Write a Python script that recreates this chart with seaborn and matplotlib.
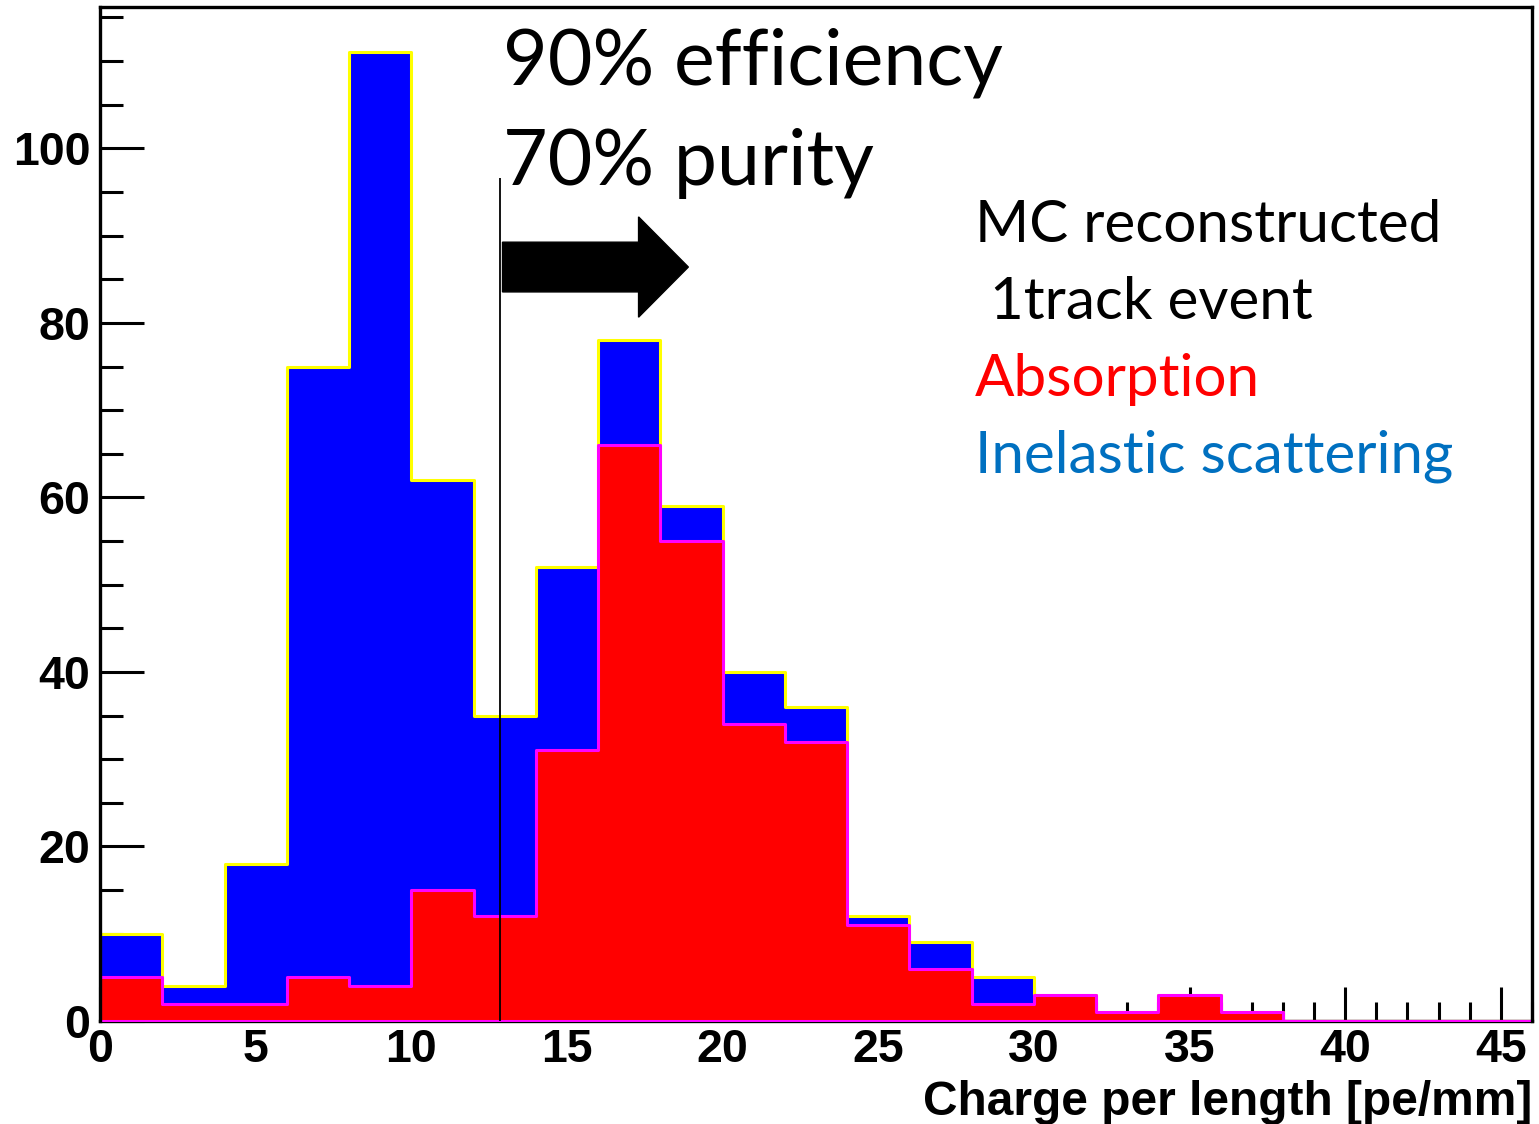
import numpy as np
import pandas as pd
import matplotlib
matplotlib.use("Agg")
import matplotlib.pyplot as plt
import matplotlib.patches as mpatches
from matplotlib.ticker import MultipleLocator
import seaborn as sns

# ---- data (bin edges of width 2, counts per bin) ----
bin_edges = list(range(0, 48, 2))  # 0..46
inelastic_total = [10, 4, 18, 75, 111, 62, 35, 52, 78, 59, 40, 36, 12, 9, 5, 3, 1, 3, 1, 0, 0, 0, 0]
absorption = [5, 2, 2, 5, 4, 15, 12, 31, 66, 55, 34, 32, 11, 6, 2, 3, 1, 3, 1, 0, 0, 0, 0]
cut_value = 12.85
x_label = "Charge per length [pe/mm]"
text_top = ["90% efficiency", "70% purity"]
text_side = ["MC reconstructed", " 1track event", "Absorption", "Inelastic scattering"]
text_side_colors = ["black", "black", "#FF0000", "#0070C0"]

edges = np.array(bin_edges, dtype=float)
centers = (edges[:-1] + edges[1:]) / 2
df = pd.DataFrame({"x": centers, "total": inelastic_total, "abs": absorption})
bw = float(edges[1] - edges[0])
brange = (float(edges[0]), float(edges[-1]))

sns.set_style("ticks")
plt.rcParams["font.family"] = ["Liberation Sans", "DejaVu Sans"]
plt.rcParams["text.color"] = "black"
plt.rcParams["xtick.color"] = "black"
plt.rcParams["ytick.color"] = "black"
plt.rcParams["axes.labelcolor"] = "black"

fig = plt.figure(figsize=(15.39, 11.24), dpi=100)
ax = fig.add_axes([100 / 1539, 1 - 1021 / 1124, 1432 / 1539, 1014 / 1124])

sns.histplot(data=df, x="x", weights="total", binwidth=bw, binrange=brange, element="step", fill=True,
             color="#0000FF", edgecolor="#FFFF00", linewidth=2.2, alpha=1, ax=ax, zorder=1)
sns.histplot(data=df, x="x", weights="abs", binwidth=bw, binrange=brange, element="step", fill=True,
             color="#FF0000", edgecolor="#FF00FF", linewidth=2.2, alpha=1, ax=ax, zorder=1.1)

ax.set_xlim(0, 46)
ax.set_ylim(0, 116.2)

# cut line
ax.vlines(cut_value, 0, 96.6, color="black", lw=1.3, zorder=3)
# arrow
arrow = mpatches.FancyArrow(12.93, 86.4, 5.97, 0, width=5.7, head_width=11.5,
                            head_length=1.6, length_includes_head=True,
                            color="black", zorder=3)
ax.add_patch(arrow)

# texts
for s, yb in zip(text_top, [107.3, 95.8]):
    ax.text(12.93, yb, s, fontsize=55.5, family=["Lato", "DejaVu Sans"], va="baseline",
            ha="left", color="black", zorder=4)
for s, yb, c in zip(text_side, [89.3, 80.4, 71.6, 62.8], text_side_colors):
    ax.text(28.1, yb, s, fontsize=42, family=["Lato", "DejaVu Sans"], va="baseline",
            ha="left", color=c, zorder=4)

# axes styling (ROOT-like)
ax.xaxis.set_major_locator(MultipleLocator(5))
ax.xaxis.set_minor_locator(MultipleLocator(1))
ax.yaxis.set_major_locator(MultipleLocator(20))
ax.yaxis.set_minor_locator(MultipleLocator(5))
ax.tick_params(axis="both", which="both", direction="in", width=2.2, color="black",
               labelcolor="black", top=False, right=False)
ax.tick_params(axis="y", which="major", length=31.5, pad=7)
ax.tick_params(axis="y", which="minor", length=16.5)
ax.tick_params(axis="x", which="major", length=24.5, pad=5)
ax.tick_params(axis="x", which="minor", length=13.5)
for lab in ax.get_xticklabels() + ax.get_yticklabels():
    lab.set_fontsize(33.5)
    lab.set_fontweight("bold")
ax.set_axisbelow(True)
for side in ["left", "top", "right", "bottom"]:
    ax.spines[side].set_visible(True)
    ax.spines[side].set_linewidth(2.4)
    ax.spines[side].set_color("black")
ax.spines["bottom"].set_zorder(0.6)

ax.set_ylabel("")
ax.set_xlabel(x_label, loc="right", fontsize=34.5, fontweight="bold", labelpad=5.5,
              color="black")

fig.savefig("out.png", dpi=100)
